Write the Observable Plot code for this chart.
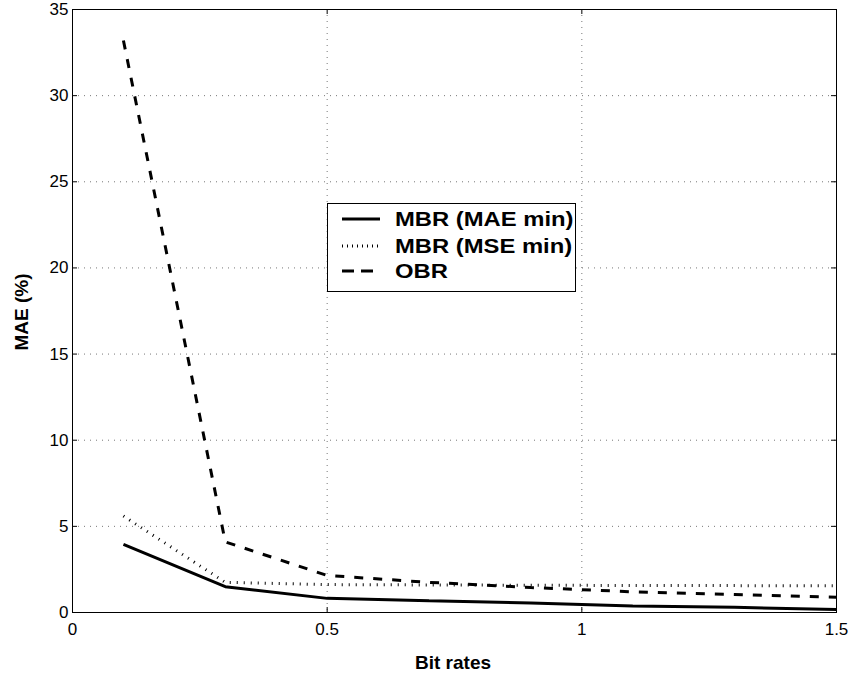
<!DOCTYPE html>
<html>
<head>
<meta charset="utf-8">
<script src="https://cdn.jsdelivr.net/npm/d3@7"></script>
<script src="https://cdn.jsdelivr.net/npm/@observablehq/plot@0.6"></script>
<style>
  html, body { margin: 0; padding: 0; background: #fff; }
  #wrap { position: relative; width: 851px; height: 675px; font-family: "Liberation Sans", Arial, Helvetica, sans-serif; }
  #legend { position: absolute; left: 327px; top: 203px; width: 249px; height: 89px; border: 1px solid #000; background: #fff; box-sizing: border-box; }
  .row { position: absolute; left: 0; height: 26px; width: 247px; }
  .row svg { position: absolute; left: 14px; top: 8px; }
  .row span { position: absolute; left: 67px; top: 1px; font-weight: bold; font-size: 20px; line-height: 24px; white-space: nowrap; display: inline-block; transform: scaleX(1.19); transform-origin: left center; }
</style>
</head>
<body>
<div id="wrap"></div>
<script>
const bitRates = [0.1, 0.3, 0.5, 0.7, 0.9, 1.1, 1.3, 1.5];
const mbrMaeMin = [3.95, 1.5, 0.82, 0.68, 0.55, 0.38, 0.3, 0.18];
const mbrMseMin = [5.6, 1.75, 1.62, 1.6, 1.58, 1.57, 1.56, 1.55];
const obr = [33.2, 4.1, 2.15, 1.75, 1.45, 1.2, 1.05, 0.88];
const seriesNames = ["MBR (MAE min)", "MBR (MSE min)", "OBR"];
const xTicks = [0, 0.5, 1, 1.5];
const yTicks = [0, 5, 10, 15, 20, 25, 30, 35];

const styles = {
  "MBR (MAE min)": {dash: null, legendDash: null, width: 3},
  "MBR (MSE min)": {dash: "1,6", legendDash: "1,4", width: 3},
  "OBR": {dash: "9,10", legendDash: "12,7", width: 3}
};
const seriesValues = [mbrMaeMin, mbrMseMin, obr];
const data = seriesNames.map((name, i) => bitRates.map((x, j) => ({series: name, x, y: seriesValues[i][j]})));

const font = "'Liberation Sans', Arial, Helvetica, sans-serif";
const W = 851, H = 675, mL = 72, mR = 15, mT = 9, mB = 63;
const innerW = W - mL - mR, innerH = H - mT - mB, tk = 5;

const chart = Plot.plot({
  width: W,
  height: H,
  marginLeft: mL,
  marginRight: mR,
  marginTop: mT,
  marginBottom: mB,
  style: {fontFamily: font, fontSize: "17px", background: "#fff", color: "#000"},
  x: {domain: [0, 1.5]},
  y: {domain: [0, 35]},
  marks: [
    Plot.gridX(xTicks.filter(d => d > 0 && d < 1.5), {stroke: "#777", strokeOpacity: 1, strokeDasharray: "1,5", strokeWidth: 1}),
    Plot.gridY(yTicks.filter(d => d > 0 && d < 35), {stroke: "#777", strokeOpacity: 1, strokeDasharray: "1,5", strokeWidth: 1}),
    Plot.axisX(xTicks, {anchor: "bottom", tickSize: 0, tickPadding: 10, label: null, tickFormat: d => String(d), fontSize: 17}),
    Plot.axisY(yTicks, {anchor: "left", tickSize: 0, tickPadding: 4, label: null, fontSize: 17}),
    // inward ticks on all four sides
    Plot.tickX(xTicks, {x: d => d, insetTop: innerH - tk, stroke: "#000"}),
    Plot.tickX(xTicks, {x: d => d, insetBottom: innerH - tk, stroke: "#000"}),
    Plot.tickY(yTicks, {y: d => d, insetRight: innerW - tk, stroke: "#000"}),
    Plot.tickY(yTicks, {y: d => d, insetLeft: innerW - tk, stroke: "#000"}),
    Plot.frame({stroke: "#000", strokeWidth: 1}),
    ...data.map(d => Plot.line(d, {x: "x", y: "y", stroke: "#000", strokeWidth: styles[d[0].series].width, strokeDasharray: styles[d[0].series].dash, strokeLinejoin: "miter", strokeLinecap: "butt"}))
  ]
});

const wrap = document.getElementById("wrap");
wrap.appendChild(chart);

// axis titles
const svg = d3.select(chart);
svg.append("text").attr("x", 453).attr("y", 669).attr("text-anchor", "middle")
  .attr("font-weight", "bold").attr("font-size", 19).attr("font-family", font).text("Bit rates");
svg.append("text").attr("transform", "translate(28,312) rotate(-90)").attr("text-anchor", "middle")
  .attr("font-weight", "bold").attr("font-size", 19).attr("font-family", font).text("MAE (%)");

// legend
const legend = document.createElement("div");
legend.id = "legend";
const rowTops = [2, 29, 54];
seriesNames.forEach((name, i) => {
  const row = document.createElement("div");
  row.className = "row";
  row.style.top = rowTops[i] + "px";
  const st = styles[name];
  row.innerHTML = `<svg width="40" height="10"><line x1="0" y1="5" x2="38" y2="5" stroke="#000" stroke-width="${st.width}" ${st.legendDash ? `stroke-dasharray="${st.legendDash}"` : ""}/></svg><span>${name}</span>`;
  legend.appendChild(row);
});
wrap.appendChild(legend);
</script>
</body>
</html>
